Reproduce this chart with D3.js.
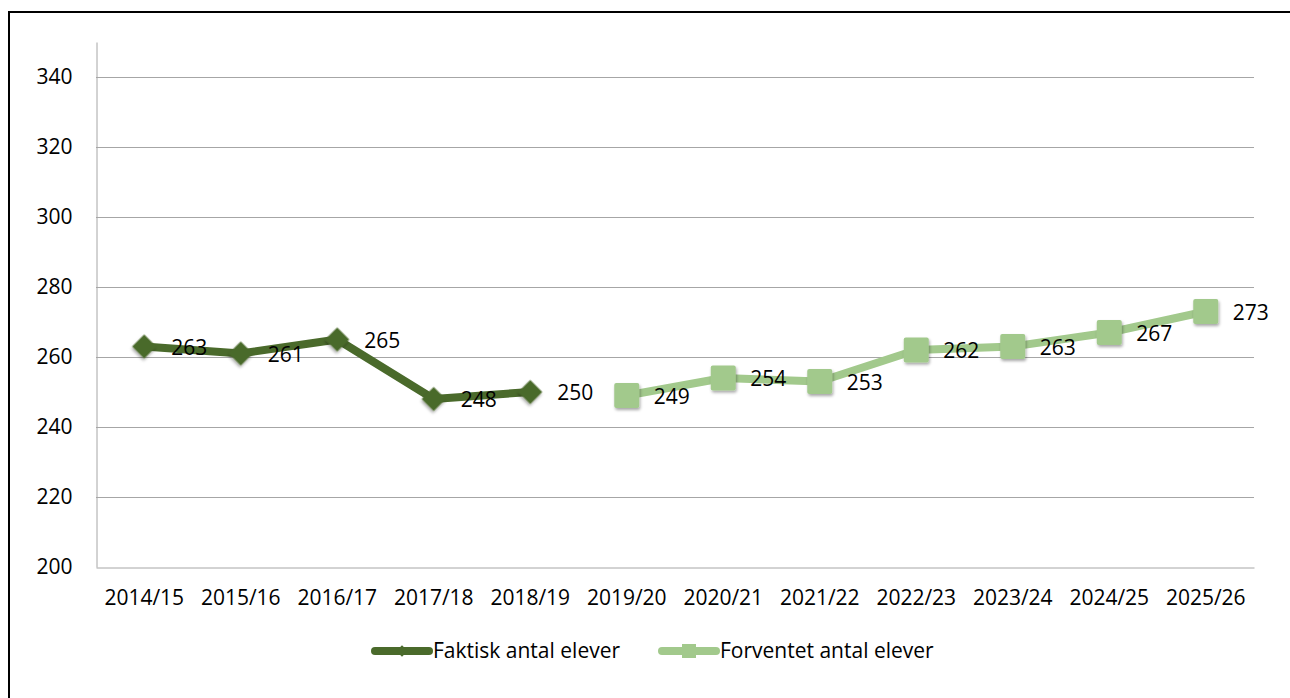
<!DOCTYPE html>
<html>
<head>
<meta charset="utf-8">
<script src="https://cdn.jsdelivr.net/npm/d3@7"></script>
<style>
  body { margin: 0; background: #fff; }
  text { font-family: "Open Sans", sans-serif; fill: #000; }
</style>
</head>
<body>
<svg id="chart" width="1290" height="698"></svg>
<script>
// school years on the x axis
var years = ["2014/15", "2015/16", "2016/17", "2017/18", "2018/19", "2019/20",
  "2020/21", "2021/22", "2022/23", "2023/24", "2024/25", "2025/26"];
// actual number of pupils
var faktiskYears = ["2014/15", "2015/16", "2016/17", "2017/18", "2018/19"];
var faktiskValues = [263, 261, 265, 248, 250];
// expected number of pupils
var forventetYears = ["2019/20", "2020/21", "2021/22", "2022/23", "2023/24", "2024/25", "2025/26"];
var forventetValues = [249, 254, 253, 262, 263, 267, 273];
var yTicks = [200, 220, 240, 260, 280, 300, 320, 340];

var svg = d3.select("#chart");

// outer frame (runs off the page on the right and bottom)
svg.append("rect")
  .attr("x", 9).attr("y", 12)
  .attr("width", 1400).attr("height", 800)
  .attr("fill", "none")
  .attr("stroke", "#000")
  .attr("stroke-width", 2);

var defs = svg.append("defs");
var shadow = defs.append("filter").attr("id", "shadow")
  .attr("x", "-50%").attr("y", "-50%").attr("width", "200%").attr("height", "200%");
shadow.append("feDropShadow")
  .attr("dx", 1).attr("dy", 2).attr("stdDeviation", 1.5)
  .attr("flood-color", "#000").attr("flood-opacity", 0.35);

// plot area
var plotLeft = 96, plotRight = 1254, plotTop = 42, plotBottom = 567;
var fontSize = "21px";

var x = d3.scaleBand().domain(years).range([plotLeft, plotRight]);
var y = d3.scaleLinear().domain([200, 350]).range([plotBottom, plotTop]);

// gridlines
svg.append("g")
  .selectAll("line")
  .data(yTicks.filter(function (d) { return d > 200; }))
  .enter().append("line")
  .attr("x1", plotLeft).attr("x2", plotRight)
  .attr("y1", function (d) { return y(d) + 0.5; })
  .attr("y2", function (d) { return y(d) + 0.5; })
  .attr("stroke", "#a6a6a6")
  .attr("stroke-width", 1);

// y axis
var yAxis = svg.append("g")
  .attr("transform", "translate(" + (plotLeft + 0.5) + ",0)")
  .call(d3.axisLeft(y).tickValues(yTicks).tickSize(0).tickPadding(24));
yAxis.select(".domain").attr("stroke", "#a6a6a6");
yAxis.selectAll("text").style("font-size", fontSize).attr("fill", "#000");

// x axis
var xAxis = svg.append("g")
  .attr("transform", "translate(0," + (plotBottom + 0.5) + ")")
  .call(d3.axisBottom(x).tickSize(0).tickPadding(23));
xAxis.select(".domain").attr("stroke", "#a6a6a6");
xAxis.selectAll("text").style("font-size", fontSize).attr("fill", "#000");

var cx = function (d) { return x(d.year) + x.bandwidth() / 2; };
var cy = function (d) { return y(d.value); };

var faktisk = faktiskYears.map(function (yr, i) { return { year: yr, value: faktiskValues[i] }; });
var forventet = forventetYears.map(function (yr, i) { return { year: yr, value: forventetValues[i] }; });

var line = d3.line().x(cx).y(cy);

var darkGreen = "#4a6a2b";
var lightGreen = "#a2c98c";

// Forventet series
svg.append("path")
  .datum(forventet)
  .attr("d", line)
  .attr("fill", "none")
  .attr("stroke", lightGreen)
  .attr("stroke-width", 8)
  .attr("stroke-linejoin", "round")
  .attr("stroke-linecap", "round");

svg.append("g")
  .selectAll("rect")
  .data(forventet)
  .enter().append("rect")
  .attr("x", function (d) { return cx(d) - 12.5; })
  .attr("y", function (d) { return cy(d) - 12.5; })
  .attr("width", 25).attr("height", 25)
  .attr("rx", 2)
  .attr("fill", lightGreen)
  .attr("filter", "url(#shadow)");

// Faktisk series
svg.append("path")
  .datum(faktisk)
  .attr("d", line)
  .attr("fill", "none")
  .attr("stroke", darkGreen)
  .attr("stroke-width", 8)
  .attr("stroke-linejoin", "round")
  .attr("stroke-linecap", "round");

var diamond = d3.symbol().type(d3.symbolSquare).size(17 * 17);
svg.append("g")
  .selectAll("path")
  .data(faktisk)
  .enter().append("path")
  .attr("d", diamond)
  .attr("transform", function (d) { return "translate(" + cx(d) + "," + cy(d) + ") rotate(45)"; })
  .attr("fill", darkGreen)
  .attr("filter", "url(#shadow)");

// data labels
svg.append("g")
  .selectAll("text")
  .data(faktisk.concat(forventet))
  .enter().append("text")
  .attr("x", function (d) { return cx(d) + 27; })
  .attr("y", function (d) { return cy(d) + 1; })
  .attr("dy", "0.35em")
  .style("font-size", fontSize)
  .text(function (d) { return d.value; });

// legend
var legend = svg.append("g");
var items = [
  { name: "Faktisk antal elever", color: darkGreen, x: 372, shape: "diamond" },
  { name: "Forventet antal elever", color: lightGreen, x: 659, shape: "square" }
];
var ly = 651;
items.forEach(function (it) {
  legend.append("line")
    .attr("x1", it.x + 3).attr("x2", it.x + 57)
    .attr("y1", ly).attr("y2", ly)
    .attr("stroke", it.color)
    .attr("stroke-width", 8)
    .attr("stroke-linecap", "round");
  if (it.shape === "diamond") {
    legend.append("path")
      .attr("d", d3.symbol().type(d3.symbolSquare).size(64))
      .attr("transform", "translate(" + (it.x + 30) + "," + ly + ") rotate(45)")
      .attr("fill", it.color);
  } else {
    legend.append("rect")
      .attr("x", it.x + 23).attr("y", ly - 7)
      .attr("width", 14).attr("height", 14)
      .attr("fill", it.color);
  }
  legend.append("text")
    .attr("x", it.x + 61)
    .attr("y", ly)
    .attr("dy", "0.35em")
    .style("font-size", fontSize)
    .text(it.name);
});
</script>
</body>
</html>
